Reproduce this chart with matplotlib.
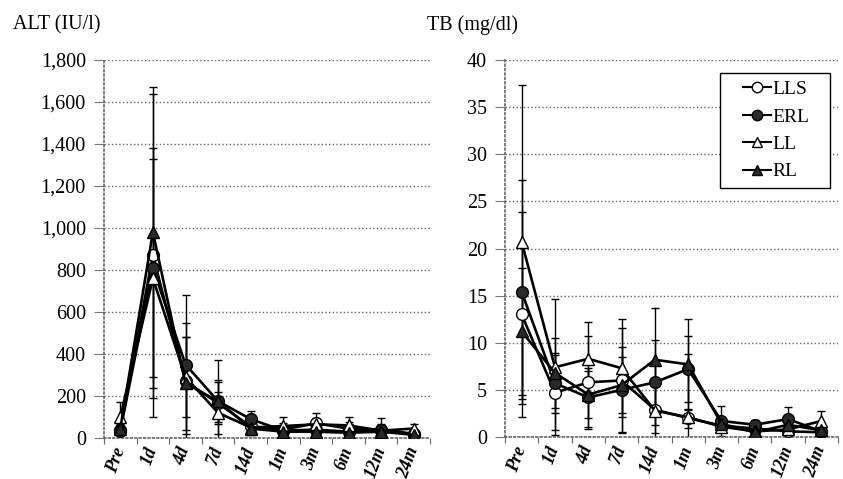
import matplotlib
matplotlib.use("Agg")
import matplotlib.pyplot as plt
from matplotlib.ticker import FuncFormatter, FixedLocator
from matplotlib.patches import Rectangle
import numpy as np

plt.rcParams['font.family'] = ['Liberation Serif', 'DejaVu Serif']

categories = ['Pre', '1d', '4d', '7d', '14d', '1m', '3m', '6m', '12m', '24m']
series_names = ['LLS', 'ERL', 'LL', 'RL']

# ALT (IU/l)
alt_lls = [40, 870, 270, 165, 55, 40, 70, 45, 40, 15]
alt_erl = [35, 810, 350, 175, 90, 35, 40, 30, 40, 20]
alt_ll = [100, 760, 290, 120, 50, 57, 65, 60, 35, 45]
alt_rl = [45, 980, 260, 175, 45, 30, 30, 25, 30, 15]
alt_lls_sd = [20, 770, 280, 100, 40, 30, 50, 30, 25, 10]
alt_erl_sd = [20, 570, 330, 195, 40, 25, 30, 25, 55, 10]
alt_ll_sd = [70, 570, 190, 100, 30, 45, 30, 40, 20, 20]
alt_rl_sd = [20, 690, 220, 100, 25, 20, 20, 20, 20, 10]

# TB (mg/dl)
tb_lls = [13.0, 4.7, 5.8, 6.0, 2.9, 2.0, 1.2, 0.9, 0.6, 0.5]
tb_erl = [15.4, 5.7, 4.2, 5.0, 5.8, 7.2, 1.7, 1.3, 1.9, 0.6]
tb_ll = [20.7, 7.4, 8.3, 7.3, 2.8, 2.1, 1.1, 0.6, 0.8, 1.7]
tb_rl = [11.2, 6.8, 4.5, 5.5, 8.2, 7.7, 1.4, 0.5, 1.3, 0.7]
tb_lls_sd = [10.9, 4.0, 4.9, 5.6, 2.5, 1.0, 0.5, 0.4, 0.4, 0.3]
tb_erl_sd = [11.9, 3.2, 3.1, 4.5, 4.5, 3.5, 1.6, 0.5, 1.3, 0.4]
tb_ll_sd = [16.7, 7.2, 3.9, 5.2, 4.9, 6.7, 0.6, 0.4, 0.5, 1.1]
tb_rl_sd = [6.7, 3.7, 2.5, 3.0, 5.5, 4.8, 0.6, 0.3, 0.5, 0.4]

alt_ticks = [0, 200, 400, 600, 800, 1000, 1200, 1400, 1600, 1800]
tb_ticks = [0, 5, 10, 15, 20, 25, 30, 35, 40]

styles = {
    'LLS': dict(marker='o', mfc='white'),
    'ERL': dict(marker='o', mfc='#2a2a2a'),
    'LL': dict(marker='^', mfc='white'),
    'RL': dict(marker='^', mfc='#2a2a2a'),
}

W, H = 843, 479
fig = plt.figure(figsize=(W / 100, H / 100), dpi=100)


def px_axes(x0, x1, ytop, ybot):
    return fig.add_axes([x0 / W, (H - ybot) / H, (x1 - x0) / W, (ybot - ytop) / H])


ax1 = px_axes(104, 430, 60, 438)
ax2 = px_axes(505, 838, 60, 437)

x = np.arange(len(categories))


def draw(ax, data, sds, ticks, fmt):
    for name, vals, sd in zip(series_names, data, sds):
        ax.errorbar(x, vals, yerr=sd, fmt='none', ecolor='black', elinewidth=1.0,
                    capsize=2.8, capthick=1.0, zorder=2)
    for name, vals in zip(series_names, data):
        st = styles[name]
        ax.plot(x, vals, color='black', lw=1.9, marker=st['marker'], ms=8.5,
                mfc=st['mfc'], mec='black', mew=1.0, label=name, zorder=3)
    ax.set_xlim(-0.5, len(categories) - 0.5)
    ax.set_ylim(ticks[0], ticks[-1])
    ax.set_yticks(ticks)
    ax.yaxis.set_major_formatter(FuncFormatter(fmt))
    ax.grid(axis='y', color='#666666', linestyle=':', linewidth=1.0, zorder=0)
    for s in ['top', 'right']:
        ax.spines[s].set_visible(False)
    for s in ['left', 'bottom']:
        ax.spines[s].set_color('#666666')
        ax.spines[s].set_linestyle(':')
        ax.spines[s].set_linewidth(1.2)
    ax.tick_params(axis='y', length=7, color='#777777', width=0.8, pad=6,
                   labelsize=14.5)
    ax.set_xticks(x)
    ax.set_xticklabels(categories, rotation=70, ha='right', va='center',
                       rotation_mode='anchor', fontsize=13, fontweight='bold',
                       fontstyle='italic')
    ax.xaxis.set_minor_locator(FixedLocator(np.arange(-0.5, len(categories), 1.0)))
    ax.tick_params(axis='x', which='major', length=0, pad=7)
    ax.tick_params(axis='x', which='minor', length=4, color='#666666', width=0.8)
    ax.set_axisbelow(True)


draw(ax1, [alt_lls, alt_erl, alt_ll, alt_rl],
     [alt_lls_sd, alt_erl_sd, alt_ll_sd, alt_rl_sd], alt_ticks,
     lambda v, p: f"{v:,.0f}")
draw(ax2, [tb_lls, tb_erl, tb_ll, tb_rl],
     [tb_lls_sd, tb_erl_sd, tb_ll_sd, tb_rl_sd], tb_ticks,
     lambda v, p: f"{v:.0f}")

# legend box (pixel placement)
bx0, bx1, by0, by1 = 720, 830, 73, 188
fig.patches.append(Rectangle((bx0 / W, 1 - by1 / H), (bx1 - bx0) / W, (by1 - by0) / H,
                             transform=fig.transFigure, facecolor='white',
                             edgecolor='black', linewidth=1.0, zorder=5))
leg = fig.legend(*ax2.get_legend_handles_labels(), loc='center',
                 bbox_to_anchor=(((bx0 + bx1) / 2 + 1) / W, 1 - ((by0 + by1) / 2) / H),
                 fontsize=14, frameon=False,
                 handlelength=1.45, handletextpad=0.05, labelspacing=0.5,
                 borderpad=0, borderaxespad=0)
leg.set_zorder(6)
for h in leg.legend_handles:
    h.set_markersize(7.5)
    h.set_linewidth(1.5)

fig.text(13 / W, 1 - 25 / H, 'ALT (IU/l)', fontsize=14.5, ha='left', va='center')
fig.text(427 / W, 1 - 25 / H, 'TB (mg/dl)', fontsize=14.5, ha='left', va='center')

fig.savefig('out.png', dpi=100)
